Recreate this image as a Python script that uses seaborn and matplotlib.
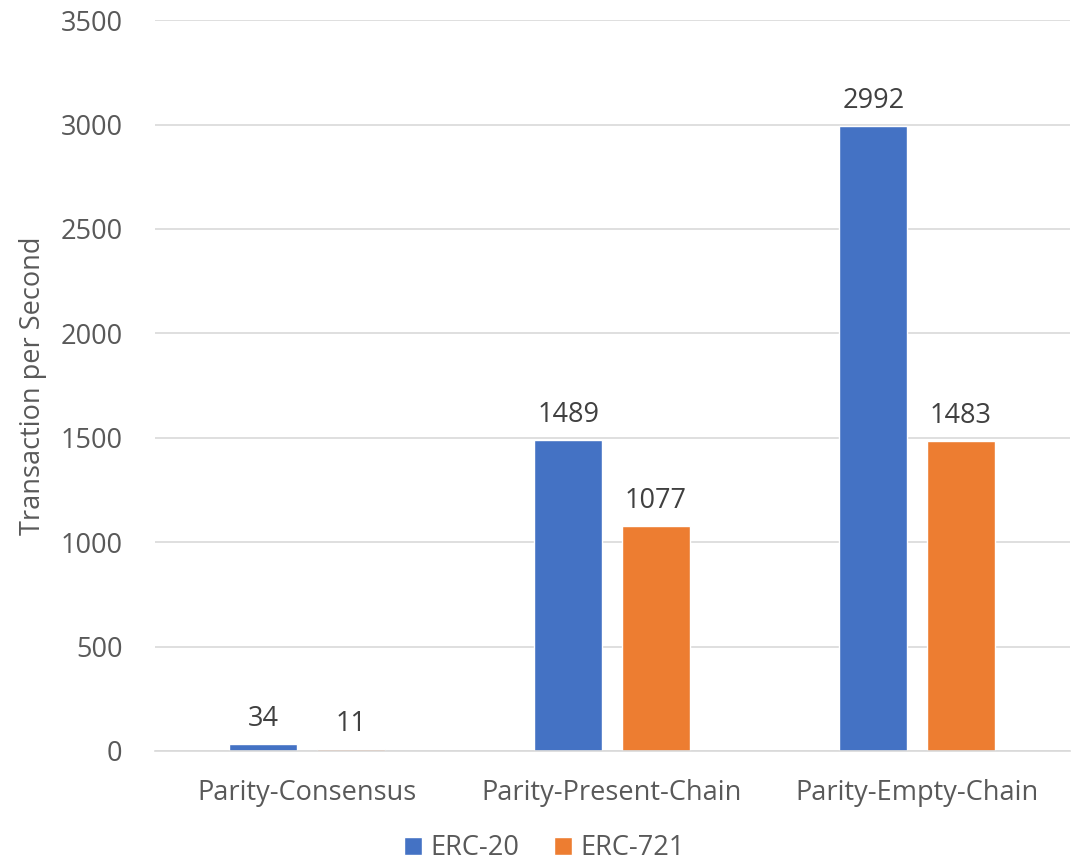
import matplotlib
matplotlib.use("Agg")
import matplotlib.pyplot as plt
import seaborn as sns
import pandas as pd

categories = ["Parity-Consensus", "Parity-Present-Chain", "Parity-Empty-Chain"]
series_names = ["ERC-20", "ERC-721"]
erc20 = [34, 1489, 2992]
erc721 = [11, 1077, 1483]
yticks = [0, 500, 1000, 1500, 2000, 2500, 3000, 3500]
colors = ["#4472C4", "#ED7D31"]

df = pd.DataFrame({
    "category": categories * 2,
    "series": [series_names[0]] * 3 + [series_names[1]] * 3,
    "value": erc20 + erc721,
})

sns.set_theme(style="white")
plt.rcParams["font.family"] = ["Open Sans", "DejaVu Sans"]

fig = plt.figure(figsize=(10.76, 8.66), dpi=100)
ax = fig.add_axes([0.1436, 0.1328, 0.8504, 0.844])

sns.barplot(data=df, x="category", y="value", hue="series", palette=colors,
            width=0.574, gap=0.22, ax=ax, legend=True, saturation=1)

ax.set_xlim(-0.5, 2.5)
ax.set_ylim(0, 3500)
ax.set_yticks(yticks)
ax.set_yticklabels([str(t) for t in yticks])
ax.grid(axis="y", color="#D9D9D9", linewidth=1.2)
ax.set_axisbelow(True)
for s in ["top", "right", "left"]:
    ax.spines[s].set_visible(False)
ax.spines["bottom"].set_color("#D9D9D9")
ax.spines["bottom"].set_linewidth(1.2)
ax.tick_params(axis="both", length=0, labelsize=19.5, colors="#595959")
ax.tick_params(axis="y", pad=23)
ax.tick_params(axis="x", pad=20)
ax.set_xlabel("")
ax.set_ylabel("Transaction per Second", fontsize=19.5, color="#595959", labelpad=10)

for cont in ax.containers:
    ax.bar_label(cont, fmt="%d", padding=8, fontsize=19.5, color="#404040")

handles, labels = ax.get_legend_handles_labels()
ax.get_legend().remove()
fig.legend(handles, labels, loc="lower center", bbox_to_anchor=(0.506, -0.024), ncol=2,
           frameon=False, fontsize=19.5, labelcolor="#595959", handlelength=0.65,
           handleheight=0.65, handletextpad=0.3, columnspacing=1.3)

fig.savefig("out.png", dpi=100)
